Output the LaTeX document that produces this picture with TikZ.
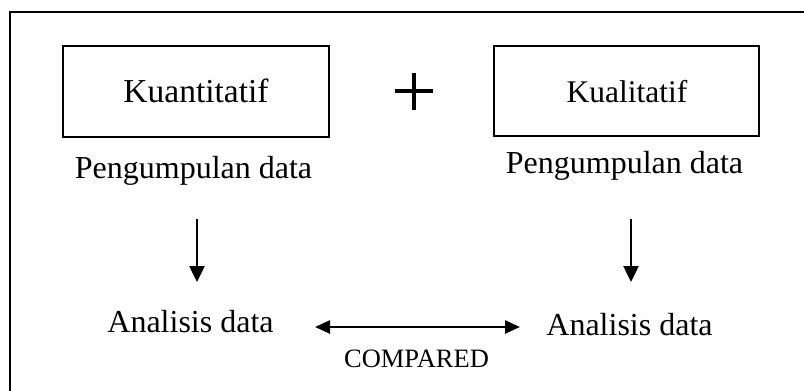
\documentclass[tikz,border=0pt]{standalone}
\usepackage{fontspec}
\setmainfont{Liberation Serif}
\usetikzlibrary{arrows.meta}
\begin{document}
\begin{tikzpicture}[x=1pt,y=-1pt,
  lbl/.style={anchor=base,inner sep=0pt,font=\fontsize{32}{36}\selectfont},
  boxframe/.style={draw,line width=2pt},
  conn/.style={line width=2.5pt,-{Triangle[length=16pt,width=15pt]}},
  dconn/.style={line width=2.5pt,{Triangle[length=15pt,width=13pt]}-{Triangle[length=15pt,width=13pt]}}]
\useasboundingbox (0,0) rectangle (804,391);
% outer frame (open at right and bottom)
\draw[line width=2.2pt] (10,391) -- (10,12) -- (804,12);
% boxes
\node[boxframe,minimum width=266pt,minimum height=91pt] (bq) at (196,91) {};
\node[boxframe,minimum width=265pt,minimum height=90pt] (bk) at (626.5,91) {};
\node[lbl,font=\fontsize{33.5}{36}\selectfont] (tq) at (196,102) {Kuantitatif};
\node[lbl,font=\fontsize{31.5}{36}\selectfont] (tk) at (627,102) {Kualitatif};
% plus
\coordinate (plus) at (414,91);
\draw[line width=3.6pt] ([xshift=-19pt]plus) -- ([xshift=19pt]plus);
\draw[line width=3.6pt] ([yshift=-19pt]plus) -- ([yshift=18pt]plus);
% labels
\node[lbl] (pd1) at (193.5,178) {Pengumpulan data};
\node[lbl] (pd2) at (624.5,173) {Pengumpulan data};
\node[lbl] (ad1) at (190.5,332) {Analisis data};
\node[lbl] (ad2) at (629.5,335) {Analisis data};
\node[lbl,font=\fontsize{26.5}{30}\selectfont] (cmp) at (416.5,367) {COMPARED};
% arrows
\coordinate (a1s) at (197,219);
\coordinate (a1e) at (197,282);
\coordinate (a2s) at (631,219);
\coordinate (a2e) at (631,282);
\draw[conn] (a1s) -- (a1e);
\draw[conn] (a2s) -- (a2e);
\coordinate (c1) at (315,327);
\coordinate (c2) at (520,327);
\draw[dconn] (c1) -- (c2);
\end{tikzpicture}
\end{document}
